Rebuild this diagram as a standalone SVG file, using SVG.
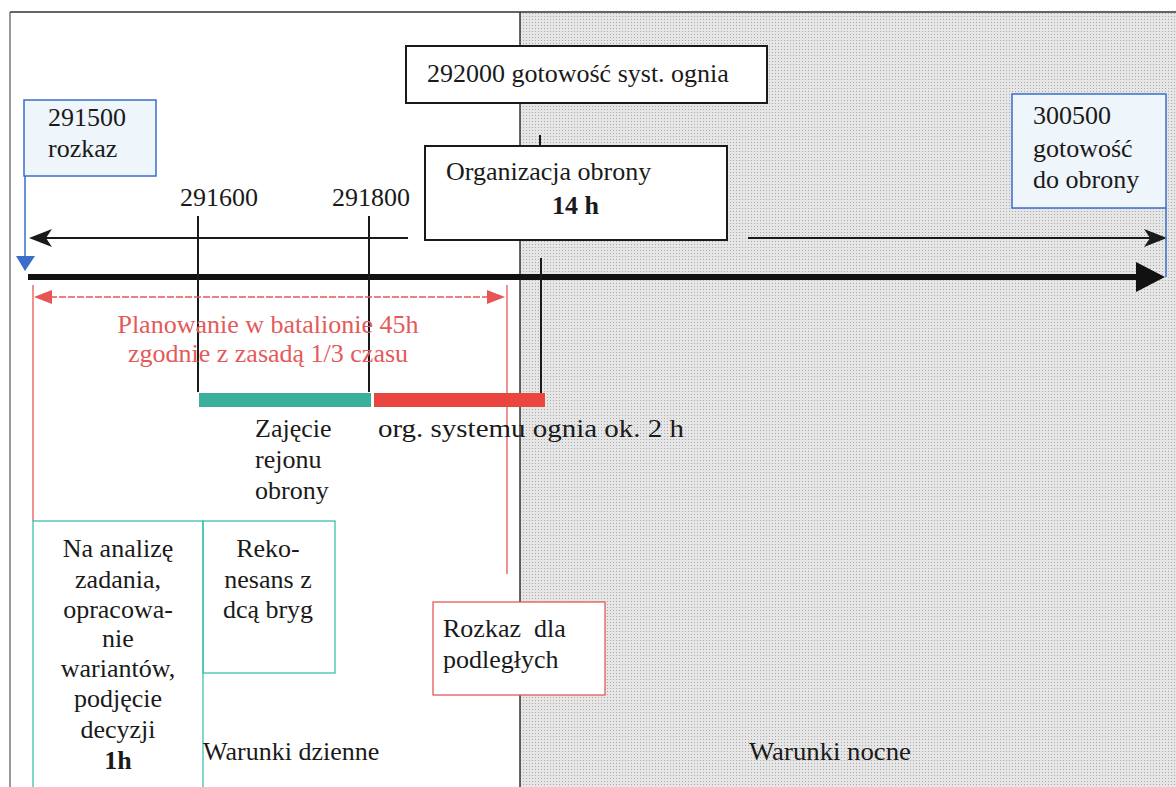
<svg xmlns="http://www.w3.org/2000/svg" width="1176" height="787" viewBox="0 0 1176 787" font-family="'Liberation Serif', 'Times New Roman', serif" font-size="26">
<defs>
<pattern id="dots" width="3" height="3" patternUnits="userSpaceOnUse">
<rect width="3" height="3" fill="#e6e6e6"/>
<rect x="1" y="1" width="1" height="1" fill="#aaaaaa"/>
</pattern>
</defs>
<style>
text{font-family:'Liberation Serif','Times New Roman',serif;font-size:26px;fill:#1a1a1a}
.red{fill:#e45a5a}
.b{font-weight:bold}
.mid{text-anchor:middle}
.bluebox{fill:#eef5fb;stroke:#3a6ec8;stroke-width:1.5}
.blackbox{fill:#ffffff;stroke:#1a1a1a;stroke-width:2}
.tealbox{fill:none;stroke:#3cc0ae;stroke-width:1.3}
.redbox{fill:#ffffff;stroke:#e45a5a;stroke-width:1.3}
.thin{stroke:#1a1a1a;stroke-width:2;fill:none}
.redl{stroke:#e85555;stroke-width:1.3;fill:none}
</style>
<rect width="1176" height="787" fill="#ffffff"/>
<g id="background">
<rect x="520" y="12" width="656" height="775" fill="url(#dots)"/>
<line x1="10" y1="12" x2="1176" y2="12" stroke="#333" stroke-width="1.5"/>
<line x1="10" y1="12" x2="10" y2="787" stroke="#555" stroke-width="1.2"/>
<line x1="520" y1="12" x2="520" y2="787" stroke="#333" stroke-width="1.5"/>
</g>
<g id="connectors">
<line class="thin" x1="46" y1="238" x2="408" y2="238"/>
<polygon points="29,238 52,229 46,238 52,247" fill="#1a1a1a"/>
<line class="thin" x1="748" y1="238" x2="1150" y2="238"/>
<polygon points="1167,238 1144,229 1150,238 1144,247" fill="#1a1a1a"/>
<line x1="28" y1="277" x2="1140" y2="277" stroke="#111" stroke-width="6"/>
<polygon points="1165,277 1136,262 1136,292" fill="#111"/>
<line x1="198" y1="216" x2="198" y2="392" stroke="#1a1a1a" stroke-width="2"/>
<line x1="369" y1="216" x2="369" y2="392" stroke="#1a1a1a" stroke-width="2"/>
<line x1="540" y1="135" x2="540" y2="155" stroke="#1a1a1a" stroke-width="2"/>
<line x1="541" y1="258" x2="541" y2="393" stroke="#1a1a1a" stroke-width="2"/>
<line x1="25" y1="176" x2="25" y2="270" stroke="#3a6ec8" stroke-width="1.5"/>
<polygon points="16,256 35,256 25,271" fill="#3a6ec8"/>
<line x1="1166" y1="208" x2="1166" y2="277" stroke="#3a6ec8" stroke-width="1.5"/>
<line class="redl" x1="33" y1="285" x2="33" y2="521"/>
<line class="redl" x1="507" y1="285" x2="507" y2="574"/>
<line class="redl" x1="50" y1="297" x2="488" y2="297" stroke-dasharray="7 2"/>
<polygon points="34,297 52,290 52,304" fill="#e85555"/>
<polygon points="505,297 487,290 487,304" fill="#e85555"/>
<rect x="199" y="393" width="172" height="14" fill="#38b09c"/>
<rect x="374" y="393" width="171" height="14" fill="#e8463e"/>
</g>
<g id="node-291500">
<rect class="bluebox" x="24" y="100" width="132" height="76"/>
<text x="48" y="126">291500</text>
<text x="48" y="157">rozkaz</text>
</g>
<g id="node-292000">
<rect class="blackbox" x="406" y="46" width="361" height="57"/>
<text x="427" y="82">292000 gotowość syst. ognia</text>
</g>
<g id="node-organizacja">
<rect class="blackbox" x="425" y="146" width="302" height="94"/>
<text x="446" y="180">Organizacja obrony</text>
<text class="b" x="552" y="214">14 h</text>
</g>
<g id="node-300500">
<rect class="bluebox" x="1012" y="94" width="154" height="114"/>
<text x="1033" y="124">300500</text>
<text x="1033" y="157">gotowość</text>
<text x="1033" y="188">do obrony</text>
</g>
<g id="labels-ticks">
<text x="180" y="206">291600</text>
<text x="332" y="206">291800</text>
</g>
<g id="label-planowanie">
<text class="red mid" x="268" y="333">Planowanie w batalionie 45h</text>
<text class="red mid" x="268" y="362">zgodnie z zasadą 1/3 czasu</text>
</g>
<g id="label-zajecie">
<text x="255" y="437">Zajęcie</text>
<text x="255" y="468">rejonu</text>
<text x="255" y="499">obrony</text>
</g>
<g id="label-org">
<text x="378" y="437" textLength="306" lengthAdjust="spacingAndGlyphs">org. systemu ognia ok. 2 h</text>
</g>
<g id="node-analiza">
<rect class="tealbox" x="33" y="521" width="170" height="270"/>
<text class="mid" x="118" y="557">Na analizę</text>
<text class="mid" x="118" y="588">zadania,</text>
<text class="mid" x="118" y="618">opracowa-</text>
<text class="mid" x="118" y="647">nie</text>
<text class="mid" x="118" y="677">wariantów,</text>
<text class="mid" x="118" y="707">podjęcie</text>
<text class="mid" x="118" y="738">decyzji</text>
<text class="mid b" x="118" y="769">1h</text>
</g>
<g id="node-rekonesans">
<rect class="tealbox" x="203" y="521" width="132" height="152"/>
<text class="mid" x="268" y="557">Reko-</text>
<text class="mid" x="268" y="588">nesans z</text>
<text class="mid" x="268" y="618">dcą bryg</text>
</g>
<g id="node-rozkaz-dla">
<rect class="redbox" x="433" y="602" width="172" height="93"/>
<text x="443" y="637" xml:space="preserve">Rozkaz  dla</text>
<text x="443" y="668">podległych</text>
</g>
<g id="labels-conditions">
<text x="203" y="760">Warunki dzienne</text>
<text x="749" y="760" textLength="162" lengthAdjust="spacingAndGlyphs">Warunki nocne</text>
</g>
</svg>
